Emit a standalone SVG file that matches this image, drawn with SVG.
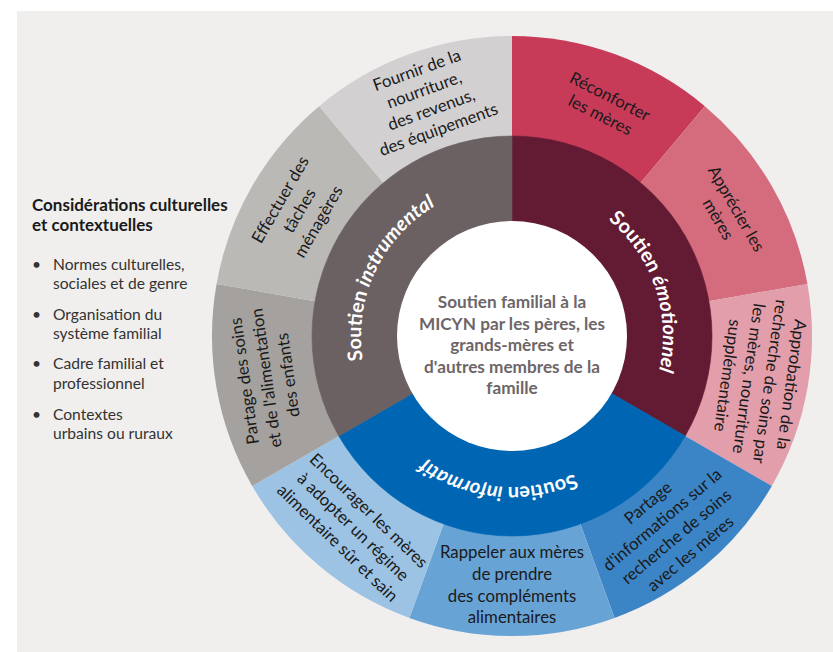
<svg xmlns="http://www.w3.org/2000/svg" width="833" height="652" viewBox="0 0 833 652">
  <defs>
    <style>
      .lbl { font-family: Lato, "Open Sans", "Liberation Sans", sans-serif; font-size: 16.8px; fill: #1a1a1a; text-anchor: middle; }
      .ring { font-family: Lato, "Open Sans", "Liberation Sans", sans-serif; font-size: 20px; font-weight: bold; fill: #ffffff; }
      .ring .it { font-style: italic; }
      .core { font-family: Lato, "Open Sans", "Liberation Sans", sans-serif; font-size: 17.2px; font-weight: bold; fill: #6d6668; text-anchor: middle; }
      .side { font-family: Lato, "Open Sans", "Liberation Sans", sans-serif; font-size: 15.6px; fill: #333333; }
      .side-h { font-family: Lato, "Open Sans", "Liberation Sans", sans-serif; font-size: 17px; font-weight: bold; fill: #1a1a1a; }
    </style>
    <!-- clockwise circle for the ring labels, starting at the top -->
    <path id="ringPath" d="M512,185 A151,151 0 1 1 512,487 A151,151 0 1 1 512,185"/>
  </defs>

  <rect x="0" y="0" width="833" height="652" fill="#ffffff"/>
  <rect x="17" y="11" width="816" height="641" fill="#f0efee"/>

  <!-- side notes -->
  <g id="considerations">
    <text class="side-h" x="32" y="211">Considérations culturelles</text>
    <text class="side-h" x="32" y="231">et contextuelles</text>
    <g class="side">
      <text x="32" y="270">•</text>
      <text x="53" y="270">Normes culturelles,</text>
      <text x="53" y="289">sociales et de genre</text>
      <text x="32" y="320">•</text>
      <text x="53" y="320">Organisation du</text>
      <text x="53" y="339">système familial</text>
      <text x="32" y="369">•</text>
      <text x="53" y="369">Cadre familial et</text>
      <text x="53" y="389">professionnel</text>
      <text x="32" y="420">•</text>
      <text x="53" y="420">Contextes</text>
      <text x="53" y="439">urbains ou ruraux</text>
    </g>
  </g>

  <!-- outer ring: 9 wedges of 40 degrees, clockwise from the top -->
  <g id="reconforter">
    <path d="M512,336 L512,36 A300,300 0 0 1 704.84,106.19 Z" fill="#c73b59"/>
    <text class="lbl" transform="translate(605,106) rotate(27)"><tspan x="0" y="-5">Réconforter</tspan><tspan x="0" y="16">les mères</tspan></text>
  </g>
  <g id="apprecier">
    <path d="M512,336 L704.84,106.19 A300,300 0 0 1 807.44,283.91 Z" fill="#d46c7e"/>
    <text class="lbl" transform="translate(727,214) rotate(60)"><tspan x="0" y="-5">Apprécier les</tspan><tspan x="0" y="16">mères</tspan></text>
  </g>
  <g id="approbation">
    <path d="M512,336 L807.44,283.91 A300,300 0 0 1 771.81,486 Z" fill="#e39eab"/>
    <text class="lbl" transform="translate(759,380) rotate(98)"><tspan x="0" y="-27">Approbation de la</tspan><tspan x="0" y="-5.5">recherche de soins par</tspan><tspan x="0" y="16">les mères, nourriture</tspan><tspan x="0" y="37.5">supplémentaire</tspan></text>
  </g>
  <g id="partage-informations">
    <path d="M512,336 L771.81,486 A300,300 0 0 1 614.61,617.91 Z" fill="#3b84c6"/>
    <text class="lbl" transform="translate(669,528) rotate(-40)"><tspan x="0" y="-27">Partage</tspan><tspan x="0" y="-5">d'informations sur la</tspan><tspan x="0" y="17">recherche de soins</tspan><tspan x="0" y="39">avec les mères</tspan></text>
  </g>
  <g id="rappeler">
    <path d="M512,336 L614.61,617.91 A300,300 0 0 1 409.39,617.91 Z" fill="#68a3d6"/>
    <text class="lbl" transform="translate(512,586)"><tspan x="0" y="-28">Rappeler aux mères</tspan><tspan x="0" y="-6">de prendre</tspan><tspan x="0" y="16">des compléments</tspan><tspan x="0" y="37">alimentaires</tspan></text>
  </g>
  <g id="encourager">
    <path d="M512,336 L409.39,617.91 A300,300 0 0 1 252.19,486 Z" fill="#9cc3e4"/>
    <text class="lbl" transform="translate(353,527) rotate(44)"><tspan x="0" y="-17">Encourager les mères</tspan><tspan x="0" y="5.5">à adopter un régime</tspan><tspan x="0" y="28">alimentaire sûr et sain</tspan></text>
  </g>
  <g id="partage-soins">
    <path d="M512,336 L252.19,486 A300,300 0 0 1 216.56,283.91 Z" fill="#a4a19e"/>
    <text class="lbl" transform="translate(267,378) rotate(-98)"><tspan x="0" y="-17">Partage des soins</tspan><tspan x="0" y="5">et de l'alimentation</tspan><tspan x="0" y="27">des enfants</tspan></text>
  </g>
  <g id="taches">
    <path d="M512,336 L216.56,283.91 A300,300 0 0 1 319.16,106.19 Z" fill="#bab9b6"/>
    <text class="lbl" transform="translate(300,211) rotate(-60)"><tspan x="0" y="-17">Effectuer des</tspan><tspan x="0" y="5">tâches</tspan><tspan x="0" y="27">ménagères</tspan></text>
  </g>
  <g id="fournir">
    <path d="M512,336 L319.16,106.19 A300,300 0 0 1 512,36 Z" fill="#d2d0d1"/>
    <text class="lbl" transform="translate(428,101) rotate(-20)"><tspan x="0" y="-27">Fournir de la</tspan><tspan x="0" y="-6">nourriture,</tspan><tspan x="0" y="15">des revenus,</tspan><tspan x="0" y="36">des équipements</tspan></text>
  </g>

  <!-- middle ring: three kinds of support -->
  <g id="soutien-emotionnel">
    <path d="M512,336 L512,136 A200,200 0 0 1 685.21,436 Z" fill="#631b33" stroke="#631b33" stroke-width="0.6"/>
  </g>
  <g id="soutien-informatif">
    <path d="M512,336 L685.21,436 A200,200 0 0 1 338.79,436 Z" fill="#0066b3" stroke="#0066b3" stroke-width="0.6"/>
  </g>
  <g id="soutien-instrumental">
    <path d="M512,336 L338.79,436 A200,200 0 0 1 512,136 Z" fill="#6b6162" stroke="#6b6162" stroke-width="0.6"/>
  </g>

  <!-- ring labels along the circle -->
  <g id="ring-labels">
    <text class="ring"><textPath href="#ringPath" startOffset="188.4" text-anchor="middle">Soutien <tspan class="it">émotionnel</tspan></textPath></text>
    <text class="ring"><textPath href="#ringPath" startOffset="488.9" text-anchor="middle">Soutien <tspan class="it">informatif</tspan></textPath></text>
    <text class="ring"><textPath href="#ringPath" startOffset="777.5" text-anchor="middle">Soutien <tspan class="it">instrumental</tspan></textPath></text>
  </g>

  <!-- centre -->
  <g id="centre">
    <circle cx="512" cy="336" r="115" fill="#ffffff"/>
    <text class="core"><tspan x="512" y="308">Soutien familial à la</tspan><tspan x="512" y="329.5">MICYN par les pères, les</tspan><tspan x="512" y="351">grands-mères et</tspan><tspan x="512" y="372.5">d'autres membres de la</tspan><tspan x="512" y="394">famille</tspan></text>
  </g>

  <!-- empty connector layer: the wheel has no links -->
  <g id="connectors"/>
</svg>
